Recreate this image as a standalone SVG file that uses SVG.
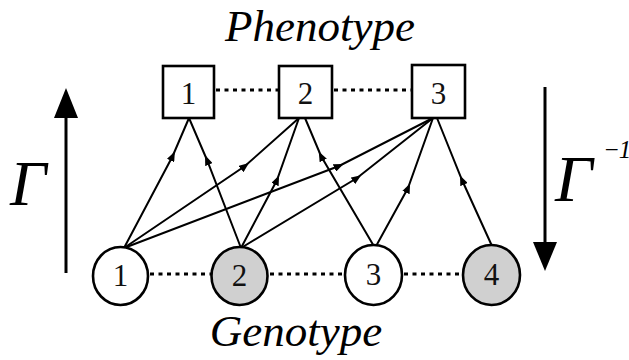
<svg xmlns="http://www.w3.org/2000/svg" width="629" height="360" viewBox="0 0 629 360">
<style>
.lbl{font-family:"Liberation Serif","Times New Roman",serif;font-style:italic;fill:#000}
.num{font-family:"Liberation Serif","Times New Roman",serif;font-size:31px;fill:#111;text-anchor:middle}
.box{fill:#fff;stroke:#000;stroke-width:2.6}
.cw{fill:#fff;stroke:#000;stroke-width:2.6}
.cg{fill:#d0d0d0;stroke:#000;stroke-width:2.6}
.edge{fill:none;stroke:#000;stroke-width:2;marker-mid:url(#mid)}
.dot{fill:none;stroke:#000;stroke-width:3;stroke-dasharray:4 4.5}
.big{fill:none;stroke:#000;stroke-width:3}
</style>
<defs>
<marker id="mid" viewBox="0 0 10 8" refX="5" refY="4" markerWidth="10" markerHeight="8" markerUnits="userSpaceOnUse" orient="auto">
<path d="M0,0 L10,4 L0,8 Z" fill="#000"/>
</marker>
</defs>
<rect width="629" height="360" fill="#fff"/>
<text class="lbl" x="320" y="41" font-size="45" text-anchor="middle">Phenotype</text>
<text class="lbl" x="296" y="346" font-size="45" text-anchor="middle">Genotype</text>
<g id="gamma">
<line class="big" x1="66" y1="273" x2="66" y2="112"/>
<path d="M54,118 L66,88 L78,118 Z" fill="#000"/>
<text class="lbl" x="10" y="205" font-size="64">Γ</text>
</g>
<g id="gamma-inv">
<line class="big" x1="545" y1="87" x2="545" y2="248"/>
<path d="M533,242 L545,271 L557,242 Z" fill="#000"/>
<text class="lbl" x="555" y="201" font-size="66">Γ</text>
<text class="lbl" x="603" y="158" font-size="25" letter-spacing="-1">−1</text>
</g>
<g id="connectors">
<line class="dot" x1="216" y1="90" x2="278" y2="90"/>
<line class="dot" x1="334" y1="90" x2="412" y2="90"/>
<line class="dot" x1="150" y1="274" x2="211" y2="274"/>
<line class="dot" x1="270" y1="274" x2="345" y2="274"/>
<line class="dot" x1="404" y1="274" x2="463" y2="274"/>
<path class="edge" d="M124,248 L172.7,156 L189,118"/>
<path class="edge" d="M124,248 L245,166 L299,118"/>
<path class="edge" d="M124,248 L339,166 L433,118" stroke-width="2.4"/>
<path class="edge" d="M241,248 L207,160 L189,118"/>
<path class="edge" d="M241,248 L277,180 L299,118"/>
<path class="edge" d="M241,248 L357,178 L433,118"/>
<path class="edge" d="M375,248 L321,156 L305,118"/>
<path class="edge" d="M375,248 L408,188 L433,118"/>
<path class="edge" d="M492,246 L462,180 L437,118"/>
</g>
<g id="p1"><rect class="box" x="163" y="66" width="51" height="52"/><text class="num" x="188.5" y="104">1</text></g>
<g id="p2"><rect class="box" x="279" y="66" width="53" height="52"/><text class="num" x="305.5" y="104">2</text></g>
<g id="p3"><rect class="box" x="412" y="65" width="53" height="53"/><text class="num" x="438.5" y="104">3</text></g>
<g id="g1"><ellipse class="cw" cx="120.5" cy="276" rx="27.5" ry="29"/><text class="num" x="120.5" y="286">1</text></g>
<g id="g2"><ellipse class="cg" cx="239.5" cy="276" rx="28" ry="29"/><text class="num" x="239.5" y="286">2</text></g>
<g id="g3"><ellipse class="cw" cx="373.5" cy="275" rx="28.5" ry="30"/><text class="num" x="373.5" y="285">3</text></g>
<g id="g4"><ellipse class="cg" cx="491.5" cy="275" rx="28.5" ry="30"/><text class="num" x="491.5" y="285">4</text></g>
</svg>
